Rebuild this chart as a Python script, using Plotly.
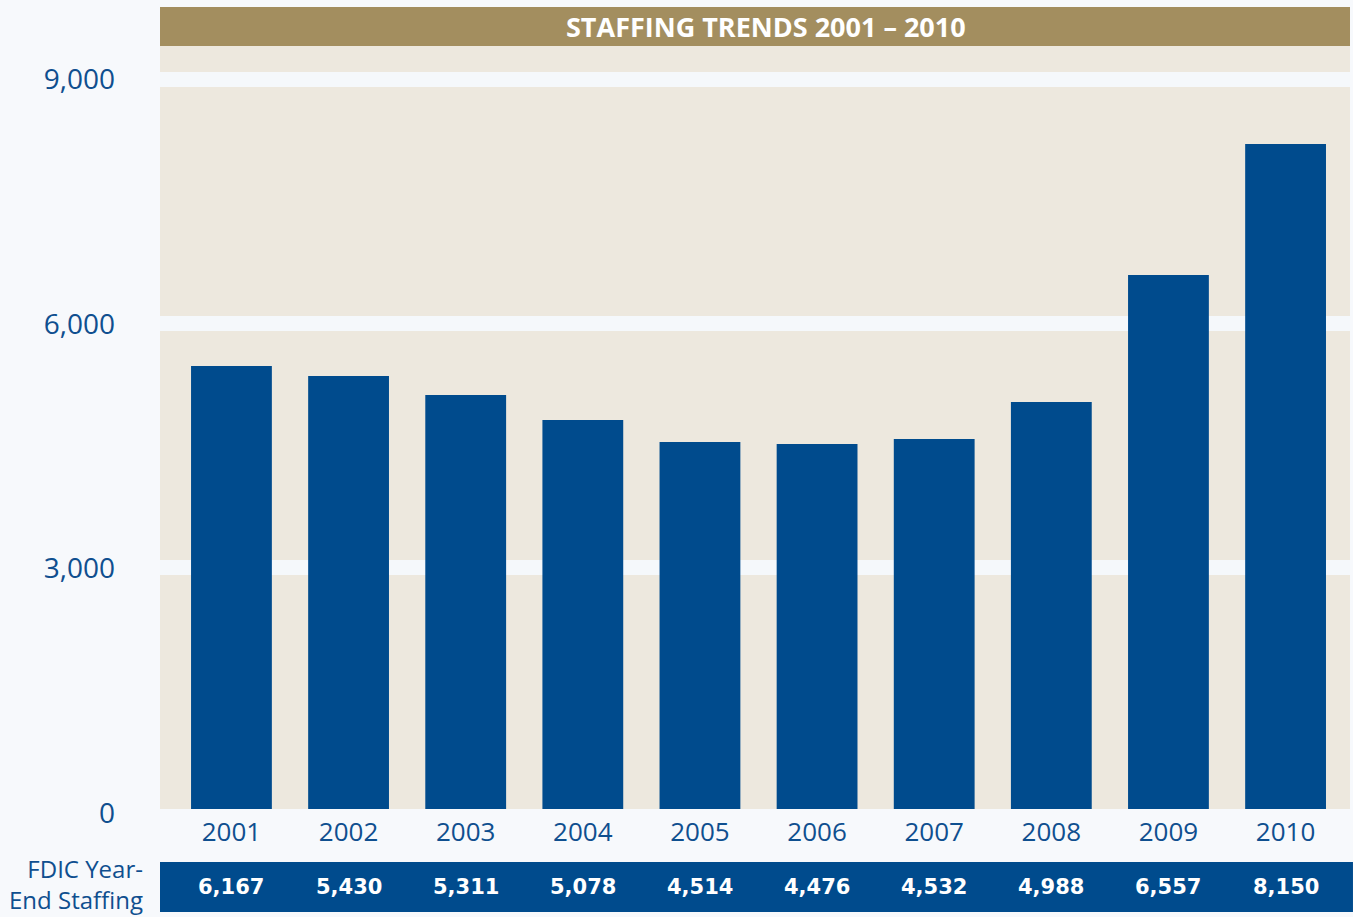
import plotly.graph_objects as go

# ---- data ----
years = ["2001", "2002", "2003", "2004", "2005", "2006", "2007", "2008", "2009", "2010"]
bar_heights = [5436, 5313, 5080, 4773, 4503, 4479, 4540, 4994, 6552, 8160]   # bar heights as drawn
staffing = [6167, 5430, 5311, 5078, 4514, 4476, 4532, 4988, 6557, 8150]      # table row values
y_ticks = [0, 3000, 6000, 9000]
y_tick_labels = ["0", "3,000", "6,000", "9,000"]
grid_values = [3000, 6000, 9000]
title_text = "STAFFING TRENDS 2001 – 2010"
row_label = "FDIC Year-<br>End Staffing"

# ---- style ----
BAR_BLUE = "#004B8D"
TEXT_BLUE = "#0F4F8F"
GOLD = "#A38E5F"
BEIGE = "#EDE8DE"
PAPER = "#F7F9FC"
BAND = "#F5F8FB"

fig = go.Figure()
fig.add_trace(go.Bar(
    x=years, y=bar_heights, width=0.69,
    marker=dict(color=BAR_BLUE, line=dict(width=0)),
    hoverinfo="skip", showlegend=False,
))
# helper invisible trace so the overlay grid axis exists
fig.add_trace(go.Scatter(x=[years[0]], y=[grid_values[0]], yaxis="y2", mode="markers",
                         marker=dict(opacity=0), hoverinfo="skip", showlegend=False))

fig.update_layout(
    width=1353, height=917,
    margin=dict(l=160, r=3, t=46, b=108),
    paper_bgcolor=PAPER,
    plot_bgcolor=BEIGE,
    bargap=0.31,
    xaxis=dict(
        type="category", range=[-0.61, 9.55],
        showgrid=False, zeroline=False, showline=False, ticks="",
        tickfont=dict(family="Open Sans", size=26, color=TEXT_BLUE),
        ticklabelstandoff=5,
    ),
    yaxis=dict(
        range=[0, 9362], fixedrange=True,
        tickvals=y_ticks, ticktext=y_tick_labels, ticks="",
        showgrid=False, zeroline=False, showline=False,
        tickfont=dict(family="Open Sans", size=28, color=TEXT_BLUE),
        ticklabelstandoff=44, ticklabelshift=4,
    ),
    yaxis2=dict(
        overlaying="y", side="left", range=[30.7, 9412],
        tickvals=grid_values, showticklabels=False, ticks="",
        showgrid=True, gridcolor=BAND, gridwidth=15, zeroline=False, showline=False,
    ),
    font=dict(family="Open Sans"),
)

# title bar and table band (outside the plot area, below the text layer)
fig.add_shape(type="rect", xref="paper", yref="paper", x0=0, x1=1, y0=1.0, y1=1.0511,
              fillcolor=GOLD, line=dict(width=0), layer="below")
fig.add_shape(type="rect", xref="paper", yref="paper", x0=0, x1=1.0025, y0=-0.135, y1=-0.0695,
              fillcolor=BAR_BLUE, line=dict(width=0), layer="below")

fig.add_annotation(text="<b>" + title_text + "</b>", xref="paper", yref="paper",
                   x=0.509, y=1.0256, showarrow=False, xanchor="center", yanchor="middle",
                   font=dict(family="Open Sans", size=27, color="white"))

# table values, positioned by category index through the x-axis range
x0, x1 = fig.layout.xaxis.range
for i, val in enumerate(staffing):
    fig.add_annotation(text="<b>{:,}</b>".format(val), xref="paper", yref="paper",
                       x=(i - x0) / (x1 - x0), y=-0.1018, showarrow=False,
                       xanchor="center", yanchor="middle",
                       font=dict(family="DejaVu Sans", size=21, color="white"))

fig.add_annotation(text=row_label, xref="paper", yref="paper", x=-0.0126, y=-0.0983,
                   showarrow=False, xanchor="right", yanchor="middle", align="right",
                   font=dict(family="Open Sans", size=24, color=TEXT_BLUE))

fig.write_html("out.html", config={"displayModeBar": False},
               post_script="document.body.style.margin='0';")
